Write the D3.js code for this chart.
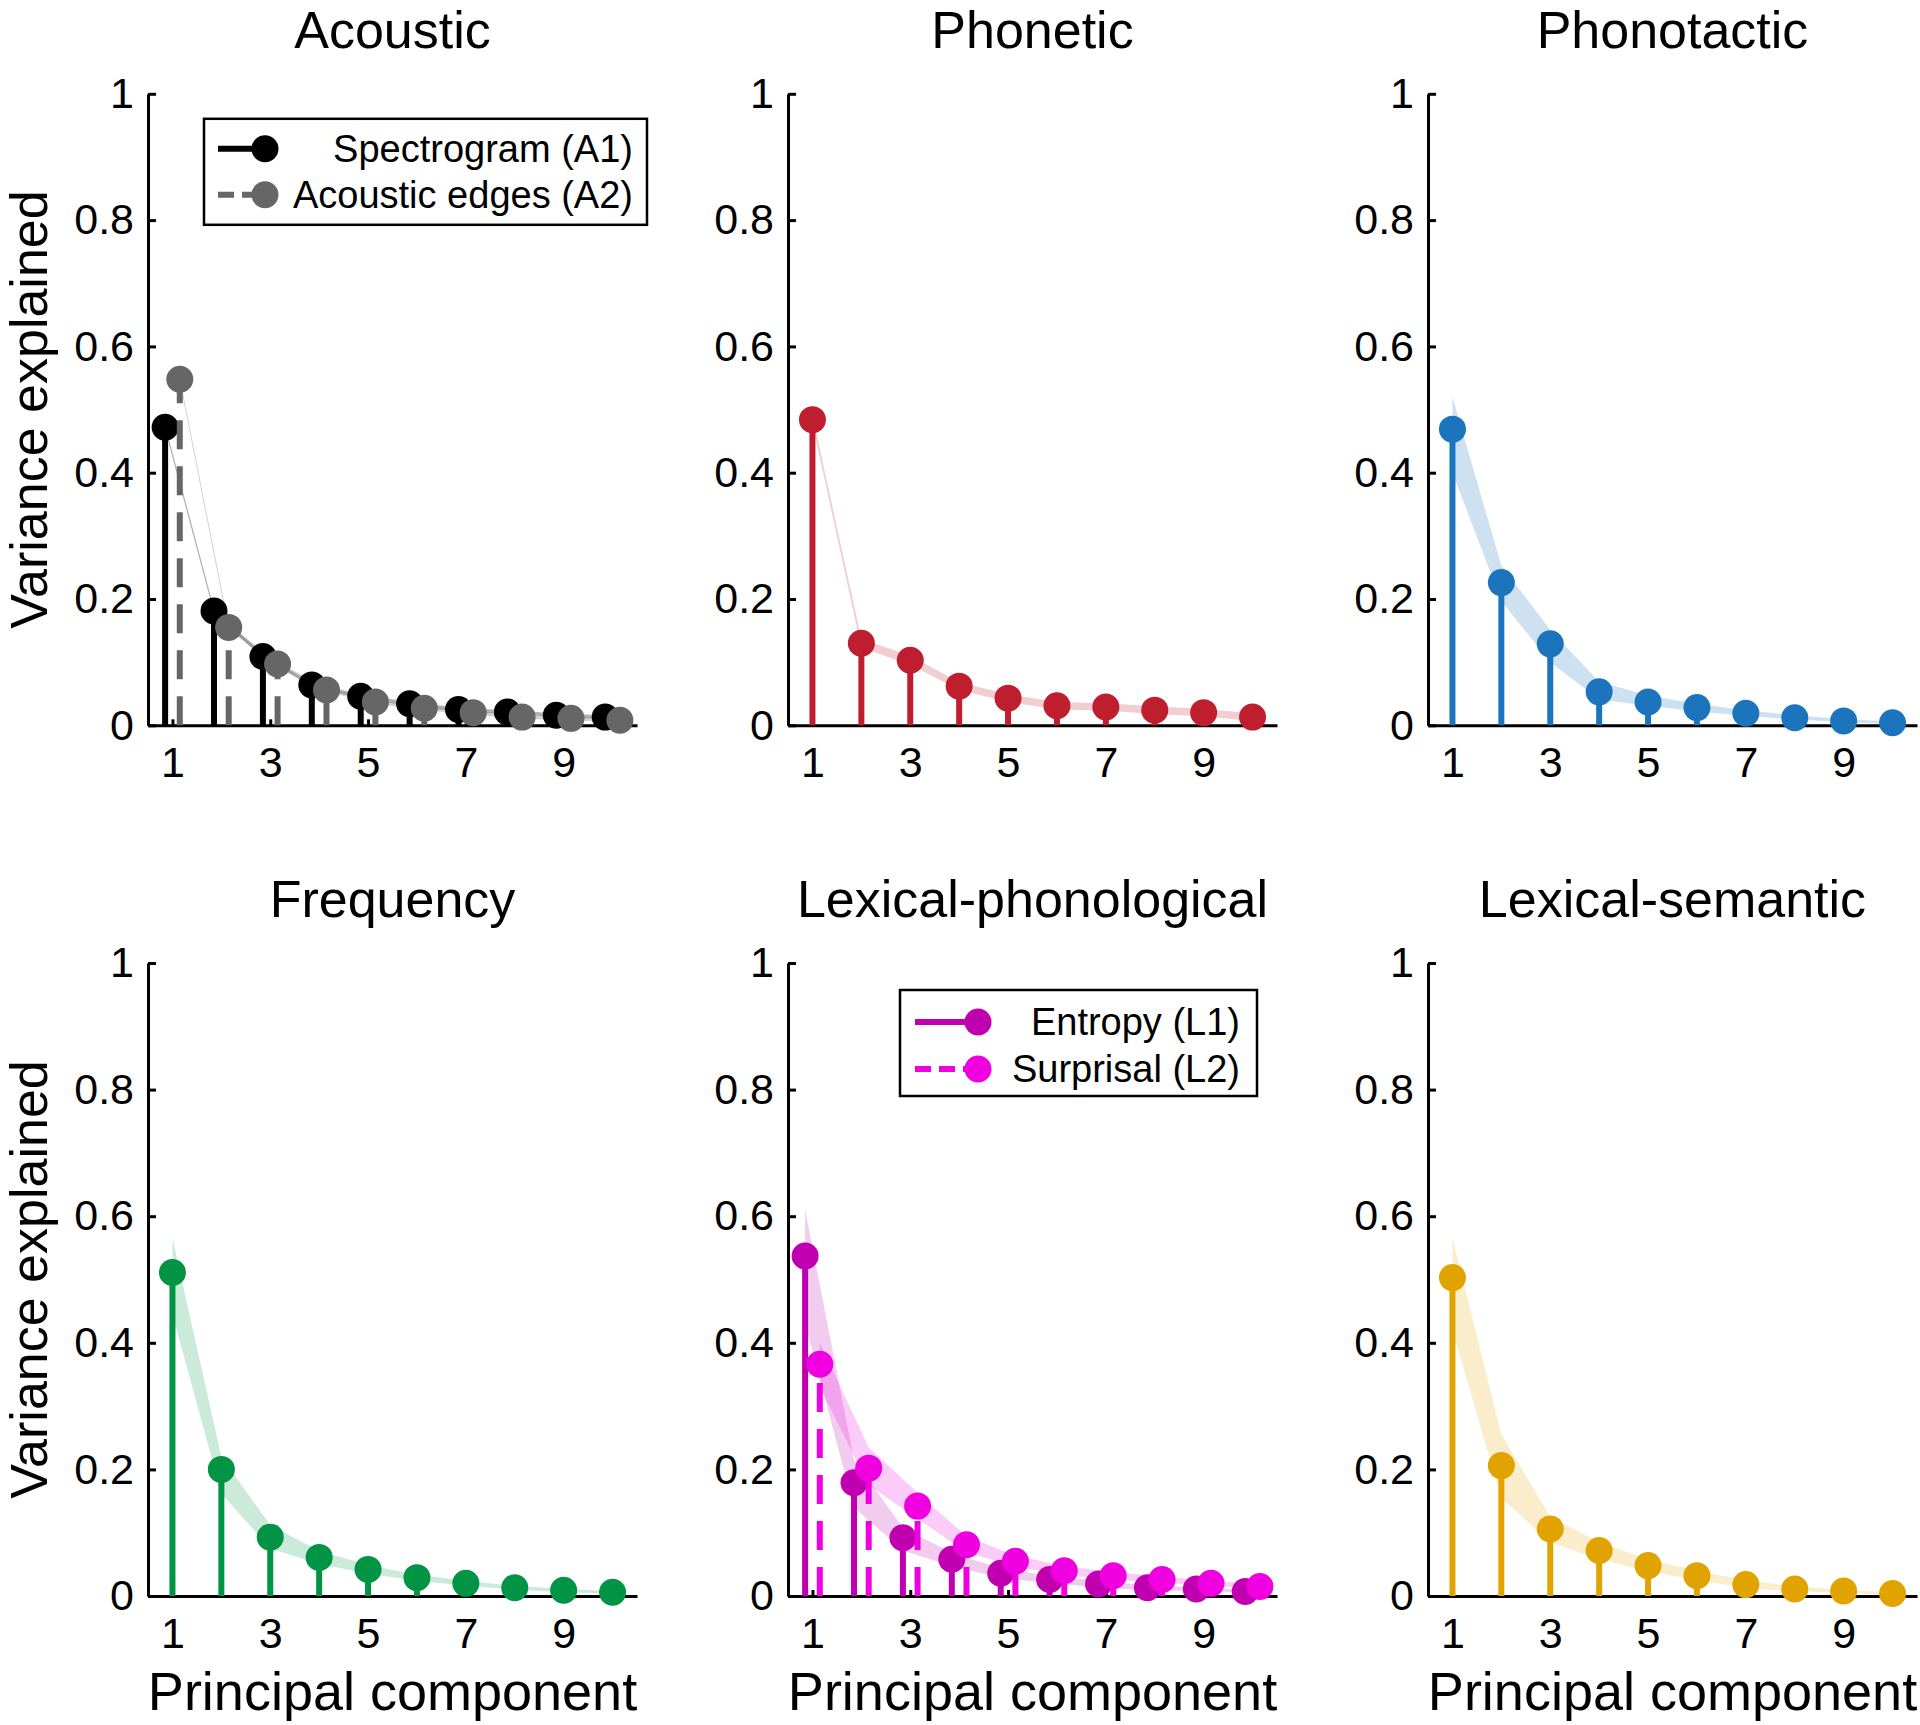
<!DOCTYPE html>
<html><head><meta charset="utf-8">
<script src="https://cdn.jsdelivr.net/npm/d3@7"></script>
<style>
body{margin:0;background:#fff;}
svg text{font-family:"Liberation Sans",Arial,Helvetica,sans-serif;fill:#000;}
</style>
</head><body>
<svg id="chart" width="1920" height="1725"></svg>
<script>
// ---------- data ----------
const components = [1,2,3,4,5,6,7,8,9,10];
const xTickValues = [1,3,5,7,9];
const yTickValues = [0,0.2,0.4,0.6,0.8,1];
const yTickLabels = ["0","0.2","0.4","0.6","0.8","1"];
const panelTitles = ["Acoustic","Phonetic","Phonotactic","Frequency","Lexical-phonological","Lexical-semantic"];
const yAxisTitle = "Variance explained";
const xAxisTitle = "Principal component";

const acousticA1   = [0.472,0.181,0.109,0.064,0.046,0.034,0.025,0.021,0.016,0.013];
const acousticA1Lo = [0.468,0.177,0.106,0.061,0.043,0.031,0.022,0.018,0.013,0.010];
const acousticA1Hi = [0.476,0.185,0.112,0.067,0.049,0.037,0.028,0.024,0.019,0.016];
const acousticA2   = [0.548,0.155,0.097,0.056,0.037,0.027,0.020,0.013,0.011,0.008];
const acousticA2Lo = [0.544,0.151,0.094,0.053,0.034,0.024,0.017,0.010,0.008,0.005];
const acousticA2Hi = [0.552,0.159,0.100,0.059,0.040,0.030,0.023,0.016,0.014,0.011];

const phonetic   = [0.484,0.130,0.103,0.062,0.043,0.031,0.029,0.024,0.020,0.013];
const phoneticLo = [0.477,0.123,0.096,0.056,0.037,0.025,0.023,0.018,0.014,0.007];
const phoneticHi = [0.491,0.137,0.110,0.068,0.049,0.037,0.035,0.030,0.026,0.019];

const phonotactic   = [0.469,0.226,0.129,0.053,0.037,0.028,0.019,0.012,0.007,0.004];
const phonotacticLo = [0.400,0.197,0.100,0.041,0.031,0.022,0.015,0.009,0.005,0.002];
const phonotacticHi = [0.520,0.253,0.151,0.069,0.047,0.034,0.024,0.016,0.010,0.006];

const frequency   = [0.511,0.200,0.093,0.061,0.042,0.029,0.020,0.013,0.009,0.006];
const frequencyLo = [0.445,0.162,0.075,0.051,0.035,0.024,0.016,0.010,0.006,0.004];
const frequencyHi = [0.565,0.220,0.112,0.071,0.049,0.034,0.024,0.016,0.011,0.008];

const lexPhonL1   = [0.537,0.179,0.092,0.058,0.036,0.026,0.019,0.013,0.011,0.007];
const lexPhonL1Lo = [0.430,0.140,0.072,0.047,0.029,0.020,0.014,0.009,0.008,0.005];
const lexPhonL1Hi = [0.610,0.215,0.108,0.068,0.044,0.032,0.024,0.017,0.014,0.010];
const lexPhonL2   = [0.366,0.202,0.142,0.081,0.055,0.040,0.032,0.026,0.020,0.015];
const lexPhonL2Lo = [0.330,0.175,0.122,0.069,0.046,0.033,0.026,0.021,0.016,0.012];
const lexPhonL2Hi = [0.400,0.235,0.163,0.094,0.064,0.047,0.038,0.031,0.024,0.018];

const lexSem   = [0.503,0.206,0.106,0.072,0.048,0.032,0.018,0.011,0.008,0.004];
const lexSemLo = [0.420,0.155,0.085,0.058,0.039,0.025,0.013,0.007,0.005,0.002];
const lexSemHi = [0.566,0.255,0.125,0.085,0.058,0.040,0.025,0.015,0.010,0.006];

// ---------- layout ----------
const colX = [148, 788, 1428];
const plotW = 489;
const rowTop = [93.8, 963];
const rowBottom = [725.3, 1596];

const panels = [
  {title:panelTitles[0], col:0, row:0, series:[
    {name:"Spectrogram (A1)", v:acousticA1, lo:acousticA1Lo, hi:acousticA1Hi, color:"#000000", bandOp:0.3, dashed:false, off:-0.15},
    {name:"Acoustic edges (A2)", v:acousticA2, lo:acousticA2Lo, hi:acousticA2Hi, color:"#666666", bandOp:0.3, dashed:true, off:0.15}],
    legend:{x:56, y:25, w:443, h:106, lineX0:14, lineX1:61, rows:[30,76], textRight:14}},
  {title:panelTitles[1], col:1, row:0, series:[
    {v:phonetic, lo:phoneticLo, hi:phoneticHi, color:"#BE1E2D", bandOp:0.22, dashed:false, off:0}]},
  {title:panelTitles[2], col:2, row:0, series:[
    {v:phonotactic, lo:phonotacticLo, hi:phonotacticHi, color:"#1C75BC", bandOp:0.22, dashed:false, off:0}]},
  {title:panelTitles[3], col:0, row:1, series:[
    {v:frequency, lo:frequencyLo, hi:frequencyHi, color:"#009444", bandOp:0.2, dashed:false, off:0}]},
  {title:panelTitles[4], col:1, row:1, series:[
    {name:"Entropy (L1)", v:lexPhonL1, lo:lexPhonL1Lo, hi:lexPhonL1Hi, color:"#C000B0", bandOp:0.2, dashed:false, off:-0.15},
    {name:"Surprisal (L2)", v:lexPhonL2, lo:lexPhonL2Lo, hi:lexPhonL2Hi, color:"#F000E0", bandOp:0.2, dashed:true, off:0.15}],
    legend:{x:112, y:27, w:357, h:106, lineX0:15, lineX1:78, rows:[32,79], textRight:17}},
  {title:panelTitles[5], col:2, row:1, series:[
    {v:lexSem, lo:lexSemLo, hi:lexSemHi, color:"#E0A300", bandOp:0.2, dashed:false, off:0}]}
];

const svg = d3.select("#chart");
const R = 13.5;

panels.forEach(p => {
  const x0 = colX[p.col];
  const top = rowTop[p.row], bot = rowBottom[p.row];
  const x = d3.scaleLinear().domain([0.5,10.5]).range([x0, x0+plotW]);
  const y = d3.scaleLinear().domain([0,1]).range([bot, top]);
  const g = svg.append("g");

  // title
  g.append("text").attr("x", x0 + plotW/2).attr("y", top - 46)
    .attr("text-anchor","middle").style("font-size","52px").text(p.title);

  // axes
  const yAxis = d3.axisLeft(y).tickValues(yTickValues)
    .tickFormat((d,i)=>yTickLabels[i]).tickSizeInner(-8).tickSizeOuter(0).tickPadding(14);
  const xAxis = d3.axisBottom(x).tickValues(xTickValues)
    .tickFormat(d3.format("d")).tickSizeInner(-6).tickSizeOuter(0).tickPadding(21);
  const gy = g.append("g").attr("transform",`translate(${x0},0)`).call(yAxis);
  const gx = g.append("g").attr("transform",`translate(0,${bot})`).call(xAxis);
  [gx, gy].forEach(a => {
    a.select(".domain").attr("stroke","#000").attr("stroke-width",3);
    a.selectAll(".tick line").attr("stroke","#000").attr("stroke-width",3);
    a.selectAll(".tick text").style("font-size","43px")
      .style("font-family",'"Liberation Sans",Arial,Helvetica,sans-serif').attr("fill","#000");
  });

  if (p.col === 0) {
    g.append("text")
      .attr("transform",`translate(47,${(top+bot)/2}) rotate(-90)`)
      .attr("text-anchor","middle").style("font-size","52px").text(yAxisTitle);
  }
  if (p.row === 1) {
    g.append("text").attr("x", x0 + plotW/2).attr("y", bot + 114)
      .attr("text-anchor","middle").style("font-size","54px").text(xAxisTitle);
  }

  // bands
  p.series.forEach(s => {
    const pts = components.map((c,i)=>({c, lo:s.lo[i], hi:s.hi[i]}));
    const area = d3.area().x(d=>x(d.c + s.off)).y0(d=>y(d.lo)).y1(d=>y(d.hi));
    g.append("path").attr("d", area(pts)).attr("fill", s.color).attr("fill-opacity", s.bandOp);
  });

  // stems and markers
  p.series.forEach(s => {
    const pts = components.map((c,i)=>({c, v:s.v[i]}));
    g.selectAll(null).data(pts).enter().append("line")
      .attr("x1", d=>x(d.c + s.off)).attr("x2", d=>x(d.c + s.off))
      .attr("y1", y(0)).attr("y2", d=>y(d.v))
      .attr("stroke", s.color).attr("stroke-width", 6)
      .attr("stroke-dasharray", s.dashed ? "29,17" : null);
    g.selectAll(null).data(pts).enter().append("circle")
      .attr("cx", d=>x(d.c + s.off)).attr("cy", d=>y(d.v)).attr("r", R)
      .attr("fill", s.color);
  });

  // legend
  if (p.legend) {
    const L = p.legend;
    const lx = x0 + L.x, ly = top + L.y;
    g.append("rect").attr("x", lx).attr("y", ly).attr("width", L.w).attr("height", L.h)
      .attr("fill","#fff").attr("stroke","#000").attr("stroke-width",2.5);
    p.series.forEach((s,i) => {
      const cy = ly + L.rows[i];
      g.append("line").attr("x1", lx + L.lineX0).attr("x2", lx + L.lineX1)
        .attr("y1", cy).attr("y2", cy).attr("stroke", s.color).attr("stroke-width", 6)
        .attr("stroke-dasharray", s.dashed ? "16,8" : null);
      g.append("circle").attr("cx", lx + L.lineX1).attr("cy", cy).attr("r", R).attr("fill", s.color);
      g.append("text").attr("x", lx + L.w - L.textRight).attr("y", cy).attr("dy","0.35em")
        .attr("text-anchor","end").style("font-size","38px").text(s.name);
    });
  }
});
</script>
</body></html>
